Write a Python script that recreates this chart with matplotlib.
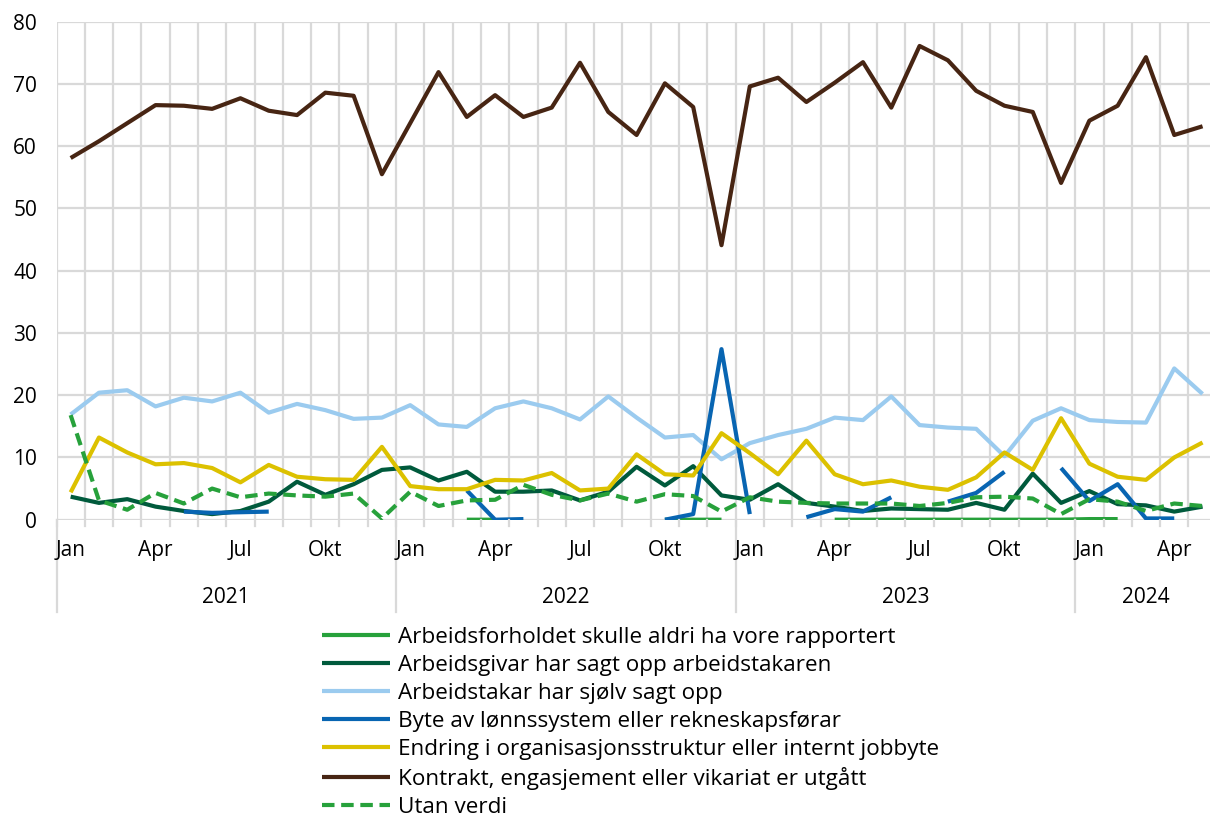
import numpy as np
import matplotlib.pyplot as plt
from matplotlib.transforms import blended_transform_factory

plt.rcParams['font.family'] = ['Open Sans', 'DejaVu Sans']

nan = np.nan
months = ['Jan', 'Feb', 'Mar', 'Apr', 'Mai', 'Jun', 'Jul', 'Aug', 'Sep', 'Okt', 'Nov', 'Des']
years = ['2021', '2022', '2023', '2024']
n_months = 41

aldri = [nan] * 14 + [0.0, 0.0] + [nan] * 5 + [0.0, 0.0, 0.0] + [nan] * 3 + \
    [0.0, 0.0, 0.0, 0.0, 0.0, 0.0, 0.0, 0.0, 0.0, 0.1, 0.1] + [nan] * 3
arbeidsgivar = [3.7, 2.7, 3.3, 2.1, 1.4, 0.9, 1.4, 2.9, 6.1, 4.0, 5.7, 8.0,
                8.4, 6.3, 7.7, 4.5, 4.5, 4.7, 3.1, 4.5, 8.5, 5.5, 8.6, 3.9,
                3.2, 5.7, 2.7, 2.1, 1.4, 1.8, 1.7, 1.6, 2.7, 1.6, 7.4, 2.7,
                4.6, 2.5, 2.3, 1.3, 2.1]
arbeidstakar = [16.9, 20.4, 20.8, 18.2, 19.6, 19.0, 20.4, 17.2, 18.6, 17.6, 16.2, 16.4,
                18.4, 15.3, 14.9, 17.9, 19.0, 17.9, 16.1, 19.8, 16.4, 13.2, 13.6, 9.7,
                12.3, 13.6, 14.6, 16.4, 16.0, 19.8, 15.2, 14.8, 14.6, 10.2, 15.9, 17.9,
                16.0, 15.7, 15.6, 24.3, 20.2]
lonnssystem = [nan, nan, nan, nan, 1.3, 1.1, 1.2, 1.3, nan, nan, nan, nan,
               nan, nan, 4.7, 0.0, 0.1, nan, nan, nan, nan, 0.0, 0.9, 27.4,
               0.9, nan, 0.4, 1.7, 1.3, 3.6, nan, 2.9, 4.3, 7.7, nan, 8.3,
               3.0, 5.7, 0.2, 0.2, nan]
organisasjon = [4.4, 13.2, 10.8, 8.9, 9.1, 8.3, 6.0, 8.8, 6.9, 6.5, 6.4, 11.7,
                5.4, 4.9, 4.9, 6.4, 6.3, 7.5, 4.7, 5.0, 10.5, 7.3, 7.1, 13.9,
                10.7, 7.3, 12.7, 7.3, 5.7, 6.3, 5.3, 4.8, 6.8, 10.8, 8.0, 16.3,
                9.0, 6.9, 6.4, 10.0, 12.4]
kontrakt = [58.1, 60.8, 63.7, 66.6, 66.5, 66.0, 67.7, 65.7, 65.0, 68.6, 68.1, 55.5,
            63.7, 71.9, 64.7, 68.2, 64.7, 66.2, 73.4, 65.5, 61.8, 70.1, 66.3, 44.1,
            69.6, 71.0, 67.1, 70.2, 73.5, 66.2, 76.1, 73.8, 68.9, 66.5, 65.5, 54.1,
            64.1, 66.5, 74.3, 61.8, 63.2]
utan_verdi = [16.8, 3.1, 1.6, 4.3, 2.6, 5.0, 3.6, 4.2, 3.9, 3.7, 4.2, 0.2,
              4.5, 2.2, 3.1, 3.2, 5.6, 4.0, 3.1, 4.2, 2.9, 4.1, 3.8, 1.3,
              3.6, 2.9, 2.7, 2.6, 2.6, 2.6, 2.2, 2.7, 3.6, 3.7, 3.4, 0.9,
              3.3, 2.9, 1.4, 2.6, 2.2]

series = [
    ('Arbeidsforholdet skulle aldri ha vore rapportert', aldri, '#27a13b', '-'),
    ('Arbeidsgivar har sagt opp arbeidstakaren', arbeidsgivar, '#005a3c', '-'),
    ('Arbeidstakar har sjølv sagt opp', arbeidstakar, '#9bcbef', '-'),
    ('Byte av lønnssystem eller rekneskapsførar', lonnssystem, '#0865b2', '-'),
    ('Endring i organisasjonsstruktur eller internt jobbyte', organisasjon, '#dcc100', '-'),
    ('Kontrakt, engasjement eller vikariat er utgått', kontrakt, '#472513', '-'),
    ('Utan verdi', utan_verdi, '#27a13b', '--'),
]

W, H = 1210, 816
fig = plt.figure(figsize=(W / 100, H / 100), dpi=100)
left, right, top, bottom = 56.5, 1216.7, 21.7, 519.7
ax = fig.add_axes([left / W, 1 - bottom / H, (right - left) / W, (bottom - top) / H])
ax.set_xlim(-0.5, n_months - 0.5)
ax.set_ylim(0, 80)

grid = '#d9d9d9'
for k in range(n_months + 1):
    ax.axvline(k - 0.5, color=grid, lw=1.6, zorder=0)
for v in range(0, 81, 10):
    ax.axhline(v, color=grid, lw=1.6, zorder=0)

x = np.arange(n_months)
for label, vals, color, ls in series:
    ax.plot(x, np.array(vals, dtype=float), color=color, lw=3.0, ls=ls,
            label=label, solid_capstyle='butt', dashes=(3, 1.6) if ls == '--' else (None, None))

for s in ax.spines.values():
    s.set_visible(False)
ax.set_yticks(range(0, 81, 10))
ax.tick_params(axis='y', length=0, pad=14, labelsize=15, colors='black')
ax.set_xticks([])

# category axis: month labels, tick marks and year groups
trans = blended_transform_factory(ax.transData, ax.transAxes)
ah = (bottom - top)
for k in range(n_months + 1):
    ax.plot([k - 0.5, k - 0.5], [0, -6 / ah], color=grid, lw=1.6, transform=trans, clip_on=False)
for i in range(n_months):
    if i % 3 == 0:
        ax.text(i, -31 / ah, months[i % 12], transform=trans, ha='center', va='center', fontsize=15)
for j, yr in enumerate(years):
    start = j * 12
    end = min(start + 12, n_months)
    ax.plot([start - 0.5, start - 0.5], [0, -92 / ah], color=grid, lw=1.6, transform=trans, clip_on=False)
    ax.text((start + end - 1) / 2, -78 / ah, yr, transform=trans, ha='center', va='center', fontsize=15)
ax.plot([n_months - 0.5] * 2, [0, -92 / ah], color=grid, lw=1.6, transform=trans, clip_on=False)

fig.legend(loc='upper left', bbox_to_anchor=(322 / W, 1 - 627 / H), frameon=False,
           fontsize=16.2, handlelength=3.02, handletextpad=0.35, labelspacing=0.31,
           borderpad=0, borderaxespad=0)

fig.savefig('out.png', dpi=100)
